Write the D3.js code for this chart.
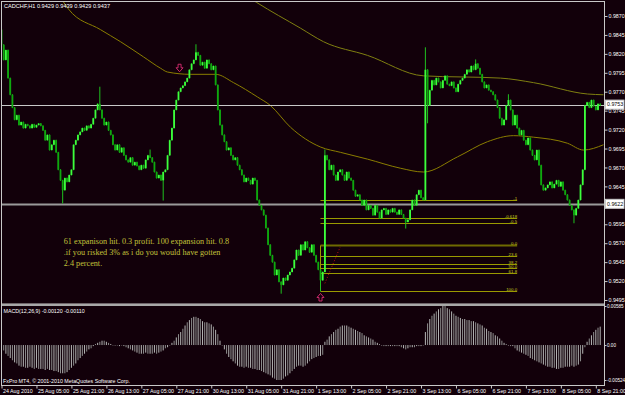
<!DOCTYPE html>
<html><head><meta charset="utf-8">
<script src="https://cdn.jsdelivr.net/npm/d3@7/dist/d3.min.js"></script>
<style>html,body{margin:0;padding:0;background:#12000a;}svg{display:block;}</style>
</head><body>
<script>
// ---------- DATA ----------
const title = "CADCHF,H1  0.9429 0.9439 0.9429 0.9437";
const macdTitle = "MACD(12,26,9) -0.00120 -0.00110";
const copyright = "FxPro MT4, \u00A9 2001-2010 MetaQuotes Software Corp.";
const firstOpen = 0.9852;
const closes = [
0.9832,0.9812,0.9825,0.9788,0.9766,0.9749,0.9733,0.9739,0.9726,0.9730,
0.9722,0.9727,0.9725,0.9722,0.9727,0.9723,0.9726,0.9728,0.9725,0.9719,
0.9706,0.9713,0.9693,0.9700,0.9706,0.9690,0.9667,0.9653,0.9640,0.9656,
0.9651,0.9660,0.9667,0.9700,0.9706,0.9713,0.9717,0.9722,0.9719,0.9725,
0.9722,0.9727,0.9735,0.9746,0.9754,0.9746,0.9735,0.9726,0.9730,0.9719,
0.9713,0.9700,0.9693,0.9700,0.9690,0.9696,0.9686,0.9680,0.9677,0.9683,
0.9673,0.9677,0.9672,0.9667,0.9673,0.9669,0.9680,0.9686,0.9683,0.9677,
0.9664,0.9656,0.9660,0.9653,0.9664,0.9667,0.9686,0.9706,0.9722,0.9746,
0.9759,0.9770,0.9775,0.9778,0.9783,0.9788,0.9799,0.9807,0.9812,0.9822,
0.9818,0.9805,0.9809,0.9801,0.9812,0.9807,0.9799,0.9804,0.9779,0.9746,
0.9726,0.9713,0.9704,0.9693,0.9696,0.9686,0.9680,0.9683,0.9673,0.9667,
0.9660,0.9651,0.9656,0.9653,0.9648,0.9656,0.9653,0.9627,0.9620,0.9614,
0.9607,0.9590,0.9568,0.9554,0.9545,0.9528,0.9535,0.9519,0.9515,0.9524,
0.9521,0.9528,0.9532,0.9537,0.9548,0.9561,0.9554,0.9568,0.9561,0.9572,
0.9564,0.9558,0.9568,0.9554,0.9545,0.9535,0.9521,0.9532,0.9686,0.9680,
0.9667,0.9673,0.9660,0.9653,0.9664,0.9667,0.9660,0.9653,0.9664,0.9656,
0.9653,0.9640,0.9632,0.9634,0.9627,0.9620,0.9627,0.9614,0.9620,0.9616,
0.9607,0.9620,0.9611,0.9603,0.9614,0.9616,0.9608,0.9614,0.9611,0.9616,
0.9611,0.9608,0.9614,0.9608,0.9603,0.9598,0.9601,0.9614,0.9627,0.9620,
0.9634,0.9640,0.9630,0.9627,0.9799,0.9752,0.9772,0.9785,0.9779,0.9788,
0.9783,0.9775,0.9785,0.9791,0.9780,0.9778,0.9783,0.9775,0.9770,0.9780,
0.9785,0.9788,0.9793,0.9799,0.9796,0.9804,0.9799,0.9807,0.9801,0.9793,
0.9783,0.9775,0.9779,0.9772,0.9770,0.9766,0.9759,0.9749,0.9735,0.9726,
0.9733,0.9752,0.9759,0.9746,0.9726,0.9739,0.9722,0.9713,0.9719,0.9706,
0.9700,0.9709,0.9693,0.9686,0.9680,0.9693,0.9673,0.9647,0.9640,0.9643,
0.9647,0.9651,0.9643,0.9648,0.9653,0.9645,0.9651,0.9640,0.9634,0.9627,
0.9620,0.9614,0.9607,0.9616,0.9627,0.9647,0.9667,0.9752,0.9756,0.9749,
0.9759,0.9751,0.9746,0.9754,0.9752];
// notable wicks: bar index, high, low (null = body only)
const wickIdx  = [0, 28, 45, 68, 74, 89, 128, 146, 148, 185, 194, 195, 217, 232, 262];
const wickHigh = [0.9865, null, 0.9776, 0.9693, null, 0.9832, null, null, 0.9693, null, 0.9828, null, 0.9812, 0.9766, null];
const wickLow  = [null, 0.9623, null, null, 0.9627, null, 0.9504, 0.9507, null, 0.9590, null, 0.9729, null, null, 0.9597];

const macdHist = [
-0.00033,-0.00081,-0.0013,-0.00163,-0.00195,-0.00228,-0.0026,-0.00276,-0.00309,-0.00325,
-0.00325,-0.00341,-0.00341,-0.00325,-0.00341,-0.00358,-0.00341,-0.00358,-0.00358,-0.00358,
-0.00374,-0.00358,-0.00374,-0.00374,-0.0039,-0.0039,-0.00406,-0.00423,-0.00423,-0.00423,
-0.00406,-0.00374,-0.00341,-0.00309,-0.00276,-0.00228,-0.00195,-0.00163,-0.0013,-0.00098,
-0.00065,-0.00049,-0.00016,0.00016,0.00033,0.00049,0.00065,0.00065,0.00049,0.00033,
0.00016,0,0,0,-0.00016,0,-0.00016,-0.00033,-0.00049,-0.00065,
-0.00081,-0.00098,-0.00114,-0.0013,-0.0013,-0.0013,-0.00114,-0.0013,-0.0013,-0.0013,
-0.00114,-0.0013,-0.00114,-0.00098,-0.00081,-0.00049,-0.00033,0,0.00033,0.00065,
0.00114,0.00163,0.00195,0.00244,0.00293,0.00341,0.00374,0.00406,0.00423,0.00423,
0.00406,0.0039,0.00358,0.00341,0.00341,0.00325,0.00309,0.00276,0.00228,0.00163,
0.00065,0,-0.00065,-0.0013,-0.00179,-0.00211,-0.00244,-0.00276,-0.00309,-0.00325,
-0.00325,-0.00341,-0.00325,-0.00341,-0.00341,-0.00358,-0.00358,-0.00374,-0.00374,-0.0039,
-0.00406,-0.00423,-0.00439,-0.00455,-0.00488,-0.00504,-0.00524,-0.00524,-0.00524,-0.00504,
-0.00471,-0.00455,-0.00423,-0.0039,-0.00358,-0.00325,-0.00309,-0.00309,-0.00325,-0.00309,
-0.00276,-0.00244,-0.00211,-0.00195,-0.00179,-0.00163,-0.00163,-0.00146,0.00049,0.00081,
0.0013,0.00163,0.00195,0.00228,0.00244,0.00276,0.00293,0.00293,0.00293,0.00276,
0.0026,0.00244,0.00228,0.00211,0.00195,0.00179,0.00146,0.0013,0.00114,0.00098,
0.00081,0.00049,0.00033,0.00016,0,-0.00016,-0.00016,-0.00016,-0.00016,-0.00016,
-0.00016,-0.00016,-0.00016,-0.00033,-0.00049,-0.00065,-0.00049,-0.00033,-0.00033,-0.00033,
-0.00016,-0.00016,-0.00016,0,0.00195,0.00325,0.0039,0.00439,0.00471,0.00504,
0.00536,0.00553,0.00585,0.00585,0.00553,0.00536,0.00504,0.00471,0.00439,0.00423,
0.00406,0.0039,0.0039,0.00374,0.00374,0.00358,0.00358,0.00341,0.00325,0.00309,
0.00293,0.0026,0.00244,0.00211,0.00195,0.00179,0.00146,0.0013,0.00098,0.00065,
0.00033,0.00016,0,-0.00016,-0.00016,-0.00049,-0.00081,-0.00098,-0.00114,-0.0013,
-0.00146,-0.00163,-0.00195,-0.00211,-0.00228,-0.00244,-0.0026,-0.00276,-0.00293,-0.00309,
-0.00325,-0.00325,-0.00341,-0.00341,-0.00358,-0.00358,-0.00341,-0.00341,-0.00325,-0.00325,
-0.00325,-0.00309,-0.00325,-0.00309,-0.00293,-0.00244,-0.0013,-0.00033,0.00049,0.00098,
0.00146,0.00195,0.00228,0.0026,0.00276];

// moving averages (knots: bar index, price)
const maFastIdx = [28, 30.7, 45.3, 54.5, 65, 72.8, 76, 86.5, 98, 106.2, 117.2, 123, 132.3, 146, 155.1, 167.5, 182.6, 193.1, 208.7, 222.4, 234.3, 243.5, 259, 266.4, 275.5];
const maFastVal = [0.9890, 0.9879, 0.9852, 0.9836, 0.9816, 0.9801, 0.9796, 0.9793, 0.9793, 0.9782, 0.9763, 0.9752, 0.9723, 0.9697, 0.9690, 0.9681, 0.9669, 0.9664, 0.9684, 0.9704, 0.9712, 0.9710, 0.9702, 0.9693, 0.9700];
const maSlowIdx = [114, 116.7, 136.8, 147.4, 167.5, 193.1, 228.4, 243.5, 268.2, 275.5];
const maSlowVal = [0.9893, 0.9888, 0.9854, 0.9836, 0.9818, 0.9791, 0.9788, 0.9782, 0.9767, 0.9766];

// price axis
const priceTicks = [0.9870,0.9845,0.9820,0.9795,0.9770,0.9745,0.9720,0.9695,0.9670,0.9645,0.9595,0.9570,0.9545,0.9520,0.9495];
const hLines = [0.9753, 0.9622];
const macdTicks = [0.00585, 0, -0.00524];
const macdTickLabels = ["0.00585", "0.00", "-0.00524"];

// time axis
const timeTickIdx = [0,16,32,48,64,80,96,112,128,144,160,176,192,208,224,240,256,272];
const timeLabels = ["24 Aug 2010","25 Aug 05:00","25 Aug 21:00","26 Aug 13:00","27 Aug 05:00","27 Aug 21:00","30 Aug 13:00","31 Aug 05:00","31 Aug 21:00","1 Sep 13:00","2 Sep 05:00","2 Sep 21:00","3 Sep 13:00","6 Sep 05:00","6 Sep 21:00","7 Sep 13:00","8 Sep 05:00","8 Sep 21:00"];

// fibonacci expansion
const fibLabels = ["-1","-0.618","-0.5","0.0","23.6","38.2","50.0","61.8","100.0"];
const fibPrices = [0.9627,0.9603,0.9597,0.9567,0.9553,0.9543,0.9537,0.9530,0.9507];
const fibStartIdx = 146, fibEndIdx = 236;
const fibTrendIdx = [148, 155];
const fibTrendVal = [0.9517, 0.9565];

// arrows
const arrowIdx = [81.5, 146];
const arrowVal = [0.9801, 0.9499];
const arrowDir = ["down", "up"];

const note = ["61 expanison hit. 0.3 profit. 100 expansion hit. 0.8",
              ".if you risked 3% as i do you would have gotten",
              "2.4 percent."];
const noteIdx = 28.5, noteVal = 0.9569;

// ---------- DRAW ----------
const W = 625, H = 395;
const BG = "#12000a", FRAME = "#c8c8c8";
const svg = d3.select("body").append("svg").attr("width", W).attr("height", H);
svg.append("rect").attr("width", W).attr("height", H).attr("fill", BG);

const x = d3.scaleLinear().domain([0, 274]).range([1.5, 1.5 + 274 * 2.185]);
const y = d3.scaleLinear().domain([0.9495, 0.9870]).range([300, 16]);
const yM = d3.scaleLinear().domain([-0.00524, 0.00585]).range([380, 306]);

const defs = svg.append("defs");
defs.append("clipPath").attr("id", "mainClip").append("rect").attr("x", 2).attr("y", 2).attr("width", 602).attr("height", 301);

const main = svg.append("g").attr("clip-path", "url(#mainClip)");

// moving averages
const lineGen = d3.line().x(d => x(d[0])).y(d => y(d[1])).curve(d3.curveMonotoneX);
main.append("path").attr("d", lineGen(maFastIdx.map((v, i) => [v, maFastVal[i]])))
  .attr("fill", "none").attr("stroke", "#8a7d00").attr("stroke-width", 1);
main.append("path").attr("d", lineGen(maSlowIdx.map((v, i) => [v, maSlowVal[i]])))
  .attr("fill", "none").attr("stroke", "#7f7f10").attr("stroke-width", 1);

// horizontal lines
hLines.forEach((p, k) => {
  main.append("line").attr("x1", 2).attr("x2", 604).attr("y1", Math.round(y(p)) + 0.5).attr("y2", Math.round(y(p)) + 0.5)
    .attr("stroke", k === 0 ? "#c8c8c8" : "#9a9a9a").attr("stroke-width", k === 0 ? 1 : 2);
});

// fib expansion
const fg = main.append("g");
fibPrices.forEach((p, k) => {
  const yy = Math.round(y(p)) + 0.5;
  fg.append("line").attr("x1", x(fibStartIdx)).attr("x2", x(fibEndIdx)).attr("y1", yy).attr("y2", yy)
    .attr("stroke", fibLabels[k] === "0.0" ? "#6f6a00" : "#9a9a00").attr("stroke-width", fibLabels[k] === "0.0" ? 2 : 1);
});
fibPrices.forEach((p, k) => {
  const yy = Math.round(y(p)) + 0.5;
  fg.append("text").attr("x", x(fibEndIdx)).attr("y", yy - 1).attr("text-anchor", "end")
    .attr("font-family", "Liberation Sans, Arial, sans-serif").attr("font-size", 4.4).attr("fill", "#c8c820").text(fibLabels[k]);
});
fg.append("line").attr("x1", x(fibStartIdx)).attr("x2", x(fibStartIdx))
  .attr("y1", y(fibPrices[3])).attr("y2", y(fibPrices[8])).attr("stroke", "#9a9a00");
fg.append("line").attr("x1", x(fibTrendIdx[0])).attr("x2", x(fibTrendIdx[1]))
  .attr("y1", y(fibTrendVal[0])).attr("y2", y(fibTrendVal[1]))
  .attr("stroke", "#c01010").attr("stroke-dasharray", "1,2");

// candles
const opens = closes.map((c, i) => i === 0 ? firstOpen : closes[i - 1]);
const cg = main.append("g");
closes.forEach((c, i) => {
  const o = opens[i];
  let hi = Math.max(o, c), lo = Math.min(o, c);
  const w = wickIdx.indexOf(i);
  if (w >= 0) {
    if (wickHigh[w] !== null) hi = Math.max(hi, wickHigh[w]);
    if (wickLow[w] !== null) lo = Math.min(lo, wickLow[w]);
  }
  const bull = c >= o;
  const col = bull ? "#3cff3c" : "#0ea80e";
  cg.append("line").attr("x1", x(i)).attr("x2", x(i)).attr("y1", y(hi) - 0.5).attr("y2", y(lo) + 0.5)
    .attr("stroke", "#1fc01f").attr("stroke-width", 1);
  const top = y(Math.max(o, c)), bot = y(Math.min(o, c));
  cg.append("rect").attr("x", x(i) - 0.9).attr("width", 1.8)
    .attr("y", top).attr("height", Math.max(1, bot - top)).attr("fill", col);
});

// arrows
arrowIdx.forEach((ai, k) => {
  const cx = x(ai), cy = y(arrowVal[k]);
  const d = arrowDir[k] === "down"
    ? "M-1.5,-4 h3 v3.5 h2 l-3.5,4 l-3.5,-4 h2 z"
    : "M-1.5,4 h3 v-3.5 h2 l-3.5,-4 l-3.5,4 h2 z";
  main.append("path").attr("d", d).attr("transform", `translate(${cx},${cy})`)
    .attr("fill", "none").attr("stroke", "#c8286a").attr("stroke-width", 1);
});

// note text
const nt = main.append("text").attr("font-family", "Liberation Serif, Times New Roman, serif")
  .attr("font-size", 8.2).attr("fill", "#c2c23a");
note.forEach((t, k) => {
  nt.append("tspan").attr("x", x(noteIdx)).attr("y", y(noteVal) + k * 10.8).text(t);
});

// title
svg.append("text").attr("x", 4).attr("y", 8).attr("font-family", "Liberation Sans, Arial, sans-serif")
  .attr("font-size", 5.6).attr("fill", "#ffffff").text(title);

// MACD histogram
const mg = svg.append("g");
macdHist.forEach((v, i) => {
  const y0 = yM(0), y1 = yM(v);
  mg.append("rect").attr("x", x(i) - 0.5).attr("width", 1)
    .attr("y", Math.min(y0, y1)).attr("height", Math.max(0.5, Math.abs(y1 - y0)))
    .attr("fill", i % 2 ? "#8c8c8c" : "#b4b4b4");
});
svg.append("text").attr("x", 3.5).attr("y", 313).attr("font-family", "Liberation Sans, Arial, sans-serif")
  .attr("font-size", 5.3).attr("fill", "#ffffff").text(macdTitle);
svg.append("text").attr("x", 3).attr("y", 382.5).attr("font-family", "Liberation Sans, Arial, sans-serif")
  .attr("font-size", 5.3).attr("fill", "#ffffff").text(copyright);

// frames
svg.append("rect").attr("x", 1.5).attr("y", 1.5).attr("width", 603).attr("height", 302.5)
  .attr("fill", "none").attr("stroke", FRAME).attr("stroke-width", 1);
svg.append("line").attr("x1", 1).attr("x2", 605).attr("y1", 305).attr("y2", 305).attr("stroke", "#a8a8a8").attr("stroke-width", 2);
svg.append("line").attr("x1", 1.5).attr("x2", 1.5).attr("y1", 304).attr("y2", 386).attr("stroke", FRAME);
svg.append("line").attr("x1", 604.5).attr("x2", 604.5).attr("y1", 304).attr("y2", 386).attr("stroke", FRAME);

// price axis
const axisFont = "Liberation Sans, Arial, sans-serif";
const ay = svg.append("g").attr("transform", "translate(604.5,0)")
  .call(d3.axisRight(y).tickValues(priceTicks).tickFormat(d3.format(".4f")).tickSize(3).tickPadding(1));
ay.select(".domain").remove();
ay.selectAll("line").attr("stroke", FRAME);
ay.selectAll("text").attr("fill", "#ffffff").attr("font-family", axisFont).attr("font-size", 5.3);

// boxed current-level labels
hLines.forEach(p => {
  const yy = y(p);
  svg.append("rect").attr("x", 605.5).attr("y", yy - 4.5).attr("width", 18.5).attr("height", 9)
    .attr("fill", "#ffffff").attr("stroke", "#c8c8c8");
  svg.append("text").attr("x", 607).attr("y", yy).attr("dy", "0.35em").attr("font-family", axisFont)
    .attr("font-size", 5.3).attr("fill", "#000000").text(d3.format(".4f")(p));
});

// MACD axis
const am = svg.append("g").attr("transform", "translate(604.5,0)")
  .call(d3.axisRight(yM).tickValues(macdTicks).tickFormat((d, i) => macdTickLabels[i]).tickSize(2).tickPadding(0.5));
am.select(".domain").remove();
am.selectAll("line").attr("stroke", FRAME);
am.selectAll("text").attr("fill", "#ffffff").attr("font-family", axisFont).attr("font-size", 4.6);

// time axis
const ax = svg.append("g").attr("transform", "translate(0,385.5)")
  .call(d3.axisBottom(x).tickValues(timeTickIdx).tickFormat((d, i) => timeLabels[i]).tickSize(3).tickPadding(1));
ax.select(".domain").attr("stroke", FRAME).attr("d", "M1,0H605");
ax.selectAll("line").attr("stroke", FRAME);
ax.selectAll("text").attr("fill", "#ffffff").attr("font-family", axisFont).attr("font-size", 5.3)
  .attr("text-anchor", "start").attr("x", 1);
</script>
</body></html>
